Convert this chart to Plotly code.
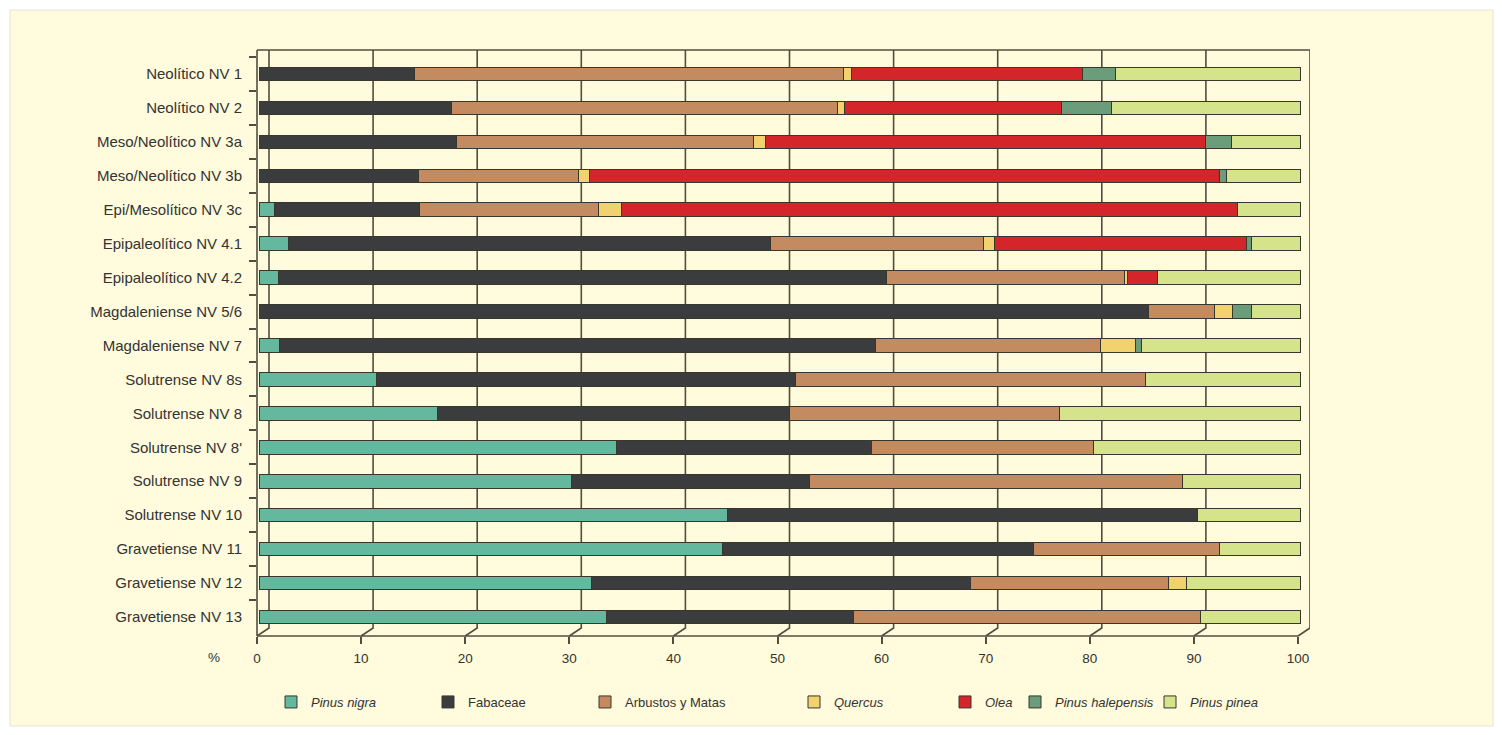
import plotly.graph_objects as go

# ---------------- data ----------------
levels = [
    "Neolítico NV 1", "Neolítico NV 2", "Meso/Neolítico NV 3a", "Meso/Neolítico NV 3b",
    "Epi/Mesolítico NV 3c", "Epipaleolítico NV 4.1", "Epipaleolítico NV 4.2",
    "Magdaleniense NV 5/6", "Magdaleniense NV 7", "Solutrense NV 8s", "Solutrense NV 8",
    "Solutrense NV 8'", "Solutrense NV 9", "Solutrense NV 10", "Gravetiense NV 11",
    "Gravetiense NV 12", "Gravetiense NV 13",
]

pinus_nigra      = [0, 0, 0, 0, 1.5, 2.8, 1.9, 0, 2.0, 11.3, 17.1, 34.3, 30.0, 45.0, 44.5, 31.9, 33.4]
fabaceae         = [14.9, 18.5, 19.0, 15.3, 13.9, 46.3, 58.4, 85.4, 57.2, 40.2, 33.9, 24.5, 22.9, 45.2, 29.9, 36.4, 23.7]
arbustos         = [41.2, 37.1, 28.5, 15.4, 17.2, 20.5, 22.8, 6.4, 21.6, 33.7, 25.9, 21.4, 35.8, 0, 17.9, 19.1, 33.3]
quercus          = [0.8, 0.6, 1.2, 1.0, 2.2, 1.1, 0.3, 1.7, 3.4, 0, 0, 0, 0, 0, 0, 1.7, 0]
olea             = [22.2, 20.9, 42.2, 60.6, 59.2, 24.2, 2.9, 0, 0, 0, 0, 0, 0, 0, 0, 0, 0]
pinus_halepensis = [3.2, 4.8, 2.5, 0.6, 0, 0.4, 0, 1.8, 0.6, 0, 0, 0, 0, 0, 0, 0, 0]
pinus_pinea      = [17.7, 18.1, 6.6, 7.1, 6.0, 4.7, 13.7, 4.7, 15.2, 14.8, 23.1, 19.8, 11.3, 9.8, 7.7, 10.9, 9.6]

series_names = ["<i>Pinus nigra</i>", "Fabaceae", "Arbustos y Matas", "<i>Quercus</i>",
                "<i>Olea</i>", "<i>Pinus halepensis</i>", "<i>Pinus pinea</i>"]
series_values = [pinus_nigra, fabaceae, arbustos, quercus, olea, pinus_halepensis, pinus_pinea]
series_colors = ["#63b89d", "#3b3c3e", "#c48b60", "#f1d26f", "#d4252a", "#6b9d7b", "#d5e38b"]

x_ticks = list(range(0, 101, 10))

# ---------------- geometry (page px; figure sits at body margin 8px) ----------------
OFF = 8
W, H = 1486, 719
L, R, T, B = 257 - OFF, 1310 - OFF, 50 - OFF, 636 - OFF   # plot area in figure px
pw, ph = R - L, B - T
unit = 10.41                          # px per percent
depth_x = 12 / unit                   # pseudo-3D offset of the back wall (in %)
floor_y = 8 / ph

LINE = "#514e40"
TXT = "#333333"
BG = "#fffbdc"
FONT = "Liberation Sans, Arial, sans-serif"

fig = go.Figure()

legend_px = [291, 448, 605, 814, 965, 1035, 1170]   # symbol centres (page px)
for i, (name, vals, col) in enumerate(zip(series_names, series_values, series_colors)):
    fig.add_trace(go.Bar(
        y=levels,
        x=[v if v > 0 else None for v in vals],
        name=name,
        orientation="h",
        width=0.4,
        marker=dict(color=col, line=dict(color="#38372e", width=1)),
        legend="legend" if i == 0 else f"legend{i+1}",
        xaxis="x",
        yaxis="y",
        hoverinfo="x+y+name",
    ))

shapes = []
# cream panel
shapes.append(dict(type="rect", xref="paper", yref="paper",
                   x0=(10 - OFF - L) / pw, x1=(1493 - OFF - L) / pw,
                   y0=(B - (H - 1)) / ph, y1=(B - (10 - OFF)) / ph,
                   fillcolor=BG, line=dict(color="#e4e2d6", width=1), layer="below"))
# back-wall grid lines with slanted floor segments
for v in x_ticks:
    shapes.append(dict(type="path", xref="x2", yref="paper",
                       path=f"M {v + depth_x},1 L {v + depth_x},{floor_y} L {v},0",
                       line=dict(color=LINE, width=1.6), layer="below"))
# frame: top, left, bottom axis line
shapes.append(dict(type="line", xref="paper", yref="paper", x0=0, x1=1, y0=1, y1=1,
                   line=dict(color=LINE, width=1.6), layer="below"))
shapes.append(dict(type="line", xref="paper", yref="paper", x0=0, x1=0, y0=0, y1=1,
                   line=dict(color=LINE, width=1.6), layer="below"))
shapes.append(dict(type="line", xref="x2", yref="paper", x0=0, x1=100, y0=0, y1=0,
                   line=dict(color=LINE, width=1.6), layer="below"))

legends = {}
for i, px in enumerate(legend_px):
    key = "legend" if i == 0 else f"legend{i+1}"
    legends[key] = dict(
        x=(px - OFF - 20) / W, y=1 - (702 - OFF) / H, xref="container", yref="container",
        xanchor="left", yanchor="middle", orientation="h",
        bgcolor="rgba(0,0,0,0)", borderwidth=0,
        font=dict(family=FONT, size=13, color=TXT),
        itemwidth=30,
    )

fig.update_layout(
    width=W, height=H,
    margin=dict(l=L, r=W - R, t=T, b=H - B, pad=0),
    paper_bgcolor="white",
    plot_bgcolor="rgba(0,0,0,0)",
    barmode="stack",
    font=dict(family=FONT, color=TXT),
    showlegend=True,
    shapes=shapes,
    xaxis=dict(range=[-2 / unit, 100 + depth_x - 2 / unit], visible=False, showgrid=False,
               zeroline=False, fixedrange=True),
    xaxis2=dict(overlaying="x", anchor="y", side="bottom",
                range=[0, pw / unit], tickvals=x_ticks, ticktext=[str(t) for t in x_ticks],
                ticks="outside", ticklen=7, tickwidth=1.6, tickcolor=LINE,
                showgrid=False, zeroline=False, showline=False,
                ticklabelstandoff=3,
                tickfont=dict(size=13.5, color=TXT)),
    yaxis=dict(type="category", categoryorder="array", categoryarray=levels,
               range=[16.56, -0.707], tickson="boundaries",
               ticks="outside", ticklen=7, tickwidth=1.6, tickcolor=LINE,
               showgrid=False, zeroline=False, showline=False,
               ticklabelstandoff=14,
               tickfont=dict(size=15, color=TXT)),
    annotations=[dict(text="%", xref="paper", yref="paper",
                      x=(214 - OFF - L) / pw, y=(B - (658 - OFF)) / ph, showarrow=False,
                      xanchor="center", yanchor="middle",
                      font=dict(size=13.5, color=TXT))],
    **legends,
)

fig.write_html("out.html")
